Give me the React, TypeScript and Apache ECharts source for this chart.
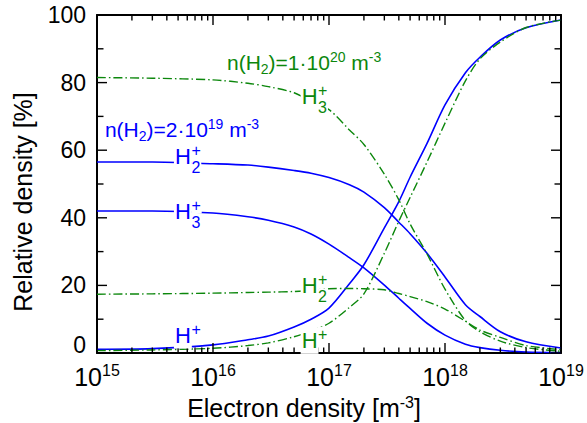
import React, { useEffect, useRef } from 'react';
import * as echarts from 'echarts';

// Electron density [m^-3]
const ne = [1e15, 3e15, 1e16, 2e16, 3e16, 5e16, 7e16, 1e17, 1.5e17, 2e17, 3e17, 4e17, 5e17, 7e17, 1e18, 1.5e18, 2e18, 3e18, 5e18, 1e19];

// n(H2) = 2e19 m^-3 (blue, solid)
const blueH2 = [56.5, 56.5, 56.0, 55.6, 55.0, 54.0, 53.2, 51.9, 49.8, 47.6, 43.0, 38.7, 35.3, 29.5, 22.5, 14.3, 10.8, 6.3, 3.3, 1.5];
const blueH3 = [42.0, 42.0, 41.4, 40.3, 39.3, 37.3, 35.2, 32.2, 28.2, 25.2, 20.1, 16.2, 13.2, 8.8, 5.3, 2.6, 1.6, 0.8, 0.3, 0.1];
const blueH = [1.1, 1.3, 2.4, 3.9, 5.0, 7.7, 10.0, 13.3, 20.5, 26.1, 37.0, 44.8, 52.0, 62.0, 73.4, 82.9, 87.5, 92.6, 96.2, 98.5];

// n(H2) = 1e20 m^-3 (green, dash-dot)
const greenH3 = [81.5, 81.3, 80.8, 79.8, 78.8, 77.0, 74.4, 72.0, 66.0, 61.7, 52.9, 45.3, 38.2, 29.3, 18.9, 9.6, 6.3, 3.5, 1.6, 0.5];
const greenH2 = [17.4, 17.5, 17.7, 17.9, 18.0, 18.2, 18.5, 19.0, 19.1, 19.0, 18.7, 17.6, 16.7, 15.2, 13.0, 9.4, 6.8, 4.6, 2.2, 1.0];
const greenH = [0.7, 0.9, 1.4, 2.2, 3.0, 4.8, 6.5, 8.8, 13.5, 17.5, 29.5, 39.0, 46.0, 56.5, 68.0, 80.5, 87.0, 92.0, 96.3, 98.5];

// axis tick positions
const decades = [15, 16, 17, 18, 19];
const minorMultipliers = [2, 3, 4, 5, 6, 7, 8, 9];
const yMajorTicks = [0, 20, 40, 60, 80, 100];
const yMinorTicks = [10, 30, 50, 70, 90];

const BLUE = '#0000ff';
const GREEN = '#0c870c';
const FONT = '"Liberation Sans", Arial, Helvetica, sans-serif';

// curve label anchors (data coordinates)
const curveLabels = [
  { x: 5.5e15, y: 58.0, color: BLUE, sup: '+', sub: '2' },
  { x: 5.5e15, y: 41.9, color: BLUE, sup: '+', sub: '3' },
  { x: 5.5e15, y: 5.2, color: BLUE, sup: '+', sub: '' },
  { x: 6.8e16, y: 75.8, color: GREEN, sup: '+', sub: '3' },
  { x: 6.8e16, y: 20.0, color: GREEN, sup: '+', sub: '2' },
  { x: 6.8e16, y: 3.6, color: GREEN, sup: '+', sub: '' },
];
const densityLabels = [
  { x: 1.17e15, y: 66.1, color: BLUE, coef: '2', exp: '19' },
  { x: 1.32e16, y: 85.9, color: GREEN, coef: '1', exp: '20' },
];

export default function App() {
  const ref = useRef<HTMLDivElement>(null);
  useEffect(() => {
    const chart = echarts.init(ref.current!, null, { renderer: 'svg' });
    const mk = (name: string, vals: number[], color: string, dashed: boolean) => ({
      type: 'line',
      name,
      data: ne.map((x, i) => [x, vals[i]]),
      showSymbol: false,
      smooth: 0.3,
      xAxisIndex: 0,
      yAxisIndex: 0,
      z: 3,
      lineStyle: { color, width: dashed ? 1.4 : 1.6, type: dashed ? [9, 3, 1.5, 3] : 'solid' },
    });

    // tick marks: [x, y, dx(px), dy(px)]
    const ticks: number[][] = [];
    decades.forEach((d) => {
      const major = Math.pow(10, d);
      ticks.push([major, 0, 0, -10], [major, 100, 0, 10]);
      if (d < 19) {
        minorMultipliers.forEach((k) => {
          const v = k * major;
          ticks.push([v, 0, 0, -5.5], [v, 100, 0, 5.5]);
        });
      }
    });
    yMajorTicks.forEach((y) => ticks.push([1e15, y, 10, 0], [1e19, y, -10, 0]));
    yMinorTicks.forEach((y) => ticks.push([1e15, y, 6.5, 0], [1e19, y, -6.5, 0]));

    const xCommon = {
      type: 'log',
      logBase: 10,
      min: 1e15,
      max: 1e19,
      axisLine: { show: true, onZero: false, lineStyle: { color: '#000', width: 2 } },
      axisTick: { show: false },
      splitLine: { show: false },
    };
    const yCommon = {
      type: 'value',
      min: 0,
      max: 100,
      interval: 20,
      axisLine: { show: true, onZero: false, lineStyle: { color: '#000', width: 2 } },
      axisTick: { show: false },
      splitLine: { show: false },
    };
    chart.setOption({
      animation: false,
      backgroundColor: '#fff',
      textStyle: { fontFamily: FONT },
      grid: { left: 97, right: 26, top: 15, bottom: 70, outerBoundsMode: 'none' },
      xAxis: [
        {
          ...xCommon,
          position: 'bottom',
          axisLabel: {
            margin: 9,
            formatter: (v: number) => `{b|10}{s|${Math.round(Math.log10(v))}}`,
            rich: {
              b: { fontSize: 25, color: '#000', lineHeight: 30, fontFamily: FONT },
              s: { fontSize: 16, color: '#000', lineHeight: 16, verticalAlign: 'top', fontFamily: FONT },
            },
          },
          name: 'Electron density [m{s|-3}]',
          nameLocation: 'middle',
          nameGap: 33,
          nameTextStyle: {
            fontSize: 25,
            color: '#000',
            fontFamily: FONT,
            lineHeight: 28,
            padding: [0, 50, 0, 0],
            rich: { s: { fontSize: 16, color: '#000', lineHeight: 16, verticalAlign: 'top', fontFamily: FONT } },
          },
        },
        { ...xCommon, position: 'top', axisLabel: { show: false } },
      ],
      yAxis: [
        {
          ...yCommon,
          position: 'left',
          axisLabel: {
            fontSize: 23,
            color: '#000',
            margin: 11,
            fontFamily: FONT,
            formatter: (v: number) => (v === 0 ? '{z|0}' : String(v)),
            rich: { z: { fontSize: 23, color: '#000', fontFamily: FONT, padding: [0, 0, 16, 0] } },
          },
          name: 'Relative density [%]',
          nameLocation: 'middle',
          nameRotate: 90,
          nameGap: 62,
          nameTextStyle: { fontSize: 25, color: '#000', fontFamily: FONT, padding: [0, 36, 0, 0] },
        },
        { ...yCommon, position: 'right', axisLabel: { show: false } },
      ],
      series: [
        mk('bH2', blueH2, BLUE, false),
        mk('bH3', blueH3, BLUE, false),
        mk('bH', blueH, BLUE, false),
        mk('gH3', greenH3, GREEN, true),
        mk('gH2', greenH2, GREEN, true),
        mk('gH', greenH, GREEN, true),
      ],
    });

    const toPx = (x: number, y: number) => chart.convertToPixel({ xAxisIndex: 0, yAxisIndex: 0 }, [x, y]) as number[];
    const graphics: any[] = [];
    ticks.forEach((t) => {
      const [px, py] = toPx(t[0], t[1]);
      graphics.push({
        type: 'line', z: 50, silent: true,
        shape: { x1: px, y1: py, x2: px + t[2], y2: py + t[3] },
        style: { stroke: '#000', lineWidth: 1.4 },
      });
    });
    curveLabels.forEach((l) => {
      const [px, py] = toPx(l.x, l.y);
      const children: any[] = [
        {
          type: 'text', x: 0, y: 0, z: 100,
          style: { text: 'H', fill: l.color, fontSize: 22, fontFamily: FONT, align: 'center', verticalAlign: 'middle', textAlign: 'center', textVerticalAlign: 'middle', backgroundColor: '#fff', padding: [3, 1, 1, 1] },
        },
        {
          type: 'text', x: 8.5, y: -6, z: 101,
          style: { text: l.sup, fill: l.color, fontSize: 16, fontFamily: FONT, align: 'left', verticalAlign: 'middle', textAlign: 'left', textVerticalAlign: 'middle', backgroundColor: '#fff', padding: [0, 1, 0, 0] },
        },
      ];
      if (l.sub) {
        children.push({
          type: 'text', x: 8.5, y: 11, z: 101,
          style: { text: l.sub, fill: l.color, fontSize: 16, fontFamily: FONT, align: 'left', verticalAlign: 'middle', textAlign: 'left', textVerticalAlign: 'middle', backgroundColor: '#fff', padding: [0, 1, 0, 0] },
        });
      }
      graphics.push({ type: 'group', x: px, y: py, z: 100, children });
    });
    densityLabels.forEach((d) => {
      const [px, py] = toPx(d.x, d.y);
      graphics.push({
        type: 'text', x: px, y: py, z: 100,
        style: {
          text: `n(H{sub|2})=${d.coef}·10{sup|${d.exp}} m{sup|-3}`,
          fill: d.color, fontSize: 21, fontFamily: FONT, lineHeight: 26,
          align: 'left', verticalAlign: 'middle', textAlign: 'left', textVerticalAlign: 'middle',
          rich: {
            sub: { fontSize: 14, lineHeight: 14, verticalAlign: 'bottom', fill: d.color, fontFamily: FONT },
            sup: { fontSize: 14, lineHeight: 14, verticalAlign: 'top', fill: d.color, fontFamily: FONT },
          },
        },
      });
    });
    chart.setOption({ graphic: graphics });
    return () => chart.dispose();
  }, []);
  return <div ref={ref} style={{ position: 'fixed', left: 0, top: 0, width: 587, height: 423 }} />;
}
